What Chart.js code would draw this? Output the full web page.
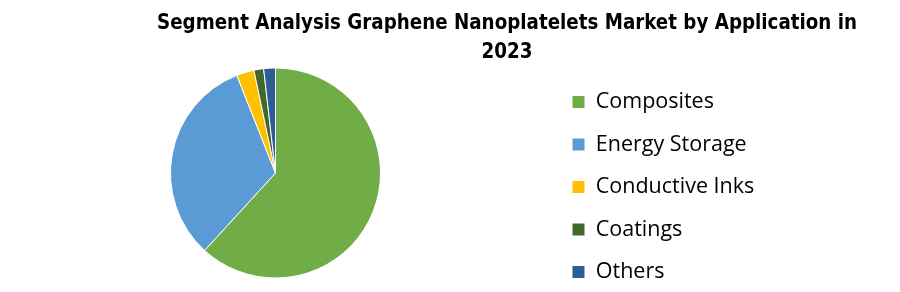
<!DOCTYPE html>
<html>
<head>
<meta charset="utf-8">
<script src="https://cdn.jsdelivr.net/npm/chart.js@4"></script>
<style>
  html, body { margin: 0; padding: 0; background: #fff; }
  #wrap { position: relative; width: 900px; height: 292px; overflow: hidden; }
  #chart { position: absolute; left: 0; top: 0; }
  #title {
    position: absolute; left: 0; top: 7px; width: 1014px;
    text-align: center; color: #000;
    font-family: "Liberation Sans Narrow", "DejaVu Sans Condensed", "Liberation Sans", sans-serif;
    font-weight: bold; font-size: 22px; line-height: 29px;
    transform-origin: 507px 0; white-space: nowrap;
  }
  #title span { display: inline-block; }
</style>
</head>
<body>
<div id="wrap">
  <canvas id="chart" width="900" height="292"></canvas>
  <div id="title"><span id="t1">Segment Analysis Graphene Nanoplatelets Market by Application in</span><br><span>2023</span></div>
</div>
<script>
const titleLines = ['Segment Analysis Graphene Nanoplatelets Market by Application in', '2023'];
const categories = ['Composites', 'Energy Storage', 'Conductive Inks', 'Coatings', 'Others'];
const shares = [61.8, 32.2, 2.7, 1.5, 1.8];
const sliceColors = ['#70AD47', '#5B9BD5', '#FFC000', '#43682B', '#2A5F96'];

// fit title line width to reference (~700px)
const t1 = document.getElementById('t1');
const tw = t1.getBoundingClientRect().width;
document.getElementById('title').style.transform = 'scaleX(' + (700 / tw) + ')';

// legend geometry
const legendFontSize = 21.5;
const legendFamily = 'Open Sans';
const legendBox = 13;
const legendPad = 21;
const legendLeft = 551;      // pie centre at legendLeft / 2
const mctx = document.createElement('canvas').getContext('2d');
mctx.font = legendFontSize + 'px ' + legendFamily;
const maxText = Math.max(...categories.map(c => mctx.measureText(c).width));
const legendWidth = legendPad + legendBox + legendFontSize / 2 + maxText + 10;
const rightPad = 900 - legendLeft - legendWidth;

new Chart(document.getElementById('chart'), {
  type: 'pie',
  data: {
    labels: categories,
    datasets: [{
      data: shares,
      backgroundColor: sliceColors,
      borderColor: '#ffffff',
      borderWidth: 1,
      radius: 105
    }]
  },
  options: {
    responsive: false,
    animation: false,
    devicePixelRatio: 1,
    layout: { padding: { left: 0, right: rightPad, top: 54, bottom: -11.75 } },
    plugins: {
      tooltip: { enabled: false },
      title: { display: false },
      legend: {
        position: 'right',
        align: 'end',
        labels: {
          color: '#000',
          font: { family: legendFamily, size: legendFontSize },
          boxWidth: legendBox,
          boxHeight: legendBox,
          padding: legendPad
        }
      }
    }
  }
});
</script>
</body>
</html>
